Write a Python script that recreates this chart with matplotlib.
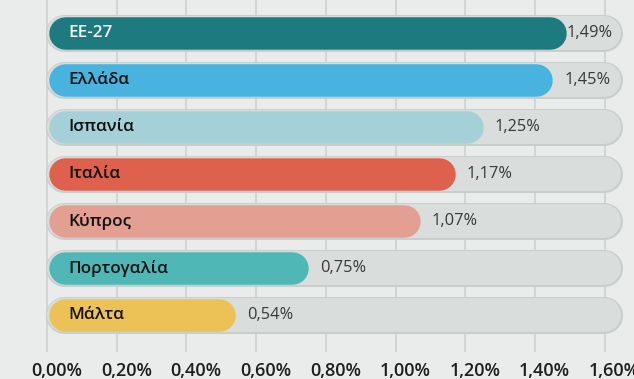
import matplotlib.pyplot as plt
from matplotlib.transforms import ScaledTranslation

# Data: share (%) per country
countries = ["ΕΕ-27", "Ελλάδα", "Ισπανία", "Ιταλία", "Κύπρος", "Πορτογαλία", "Μάλτα"]
values = [1.49, 1.45, 1.25, 1.17, 1.07, 0.75, 0.54]
bar_colors = ["#1d7a7e", "#47b3de", "#a6d0d8", "#dd614c", "#e3a092", "#4fb7b5", "#ecc155"]
ticks = [0.0, 0.2, 0.4, 0.6, 0.8, 1.0, 1.2, 1.4, 1.6]
tick_labels = ["0,00%", "0,20%", "0,40%", "0,60%", "0,80%", "1,00%", "1,20%", "1,40%", "1,60%"]
track_max = 1.65

BG = "#e9eceb"
DPI = 100
W, H = 634, 379
px_per_unit = 348.5  # horizontal pixels per 1.0 on the x scale
FONT = ["Open Sans", "Noto Sans", "DejaVu Sans"]

fig = plt.figure(figsize=(W / DPI, H / DPI), dpi=DPI, facecolor=BG)
ax = fig.add_axes([0, 27 / H, 1, 352 / H])
ax.set_facecolor(BG)
ax.set_xlim(-47 / px_per_unit, (W - 47) / px_per_unit)
ax.set_ylim(6.787, -0.702)

for s in ax.spines.values():
    s.set_visible(False)
ax.set_yticks([])
ax.set_xticks(ticks)
ax.set_xticklabels(tick_labels, family=FONT, fontsize=13,
                   fontweight="semibold", color="#1e1e1e")
ax.tick_params(axis="x", length=0, pad=7)
shift = ScaledTranslation(7 / 72, 0, fig.dpi_scale_trans)
for lab in ax.get_xticklabels():
    lab.set_transform(lab.get_transform() + shift)
ax.grid(axis="x", color="#d2d5d4", lw=1.4, zorder=0)
ax.set_axisbelow(True)

pt = 72 / DPI  # points per pixel
r_track = 18.5 / px_per_unit
r_bar = 16 / px_per_unit
gap = 12 / px_per_unit
label_max = 1.492

for i, (name, v, c) in enumerate(zip(countries, values, bar_colors)):
    # grey track with a slightly darker rim
    ax.plot([r_track - 0.003, track_max - r_track], [i, i], lw=37 * pt,
            color="#c9cdcc", solid_capstyle="round", zorder=2)
    ax.plot([r_track - 0.003, track_max - r_track], [i, i], lw=34 * pt,
            color="#d9dddc", solid_capstyle="round", zorder=3)
    # coloured value bar
    ax.plot([r_bar + 0.005, v - r_bar], [i, i], lw=32.5 * pt,
            color=c, solid_capstyle="round", zorder=4)
    ax.text(0.06, i, name, va="center", ha="left", family=FONT,
            fontsize=12.3, fontweight="semibold",
            color="#f4f4f4" if i == 0 else "#111111", zorder=5)
    ax.text(min(v + gap, label_max), i, f"{v:.2f}%".replace(".", ","),
            va="center", ha="left", family=FONT, fontsize=11.8,
            fontweight="medium", color="#383838", zorder=5)

fig.savefig("out.png", dpi=DPI, facecolor=BG)
